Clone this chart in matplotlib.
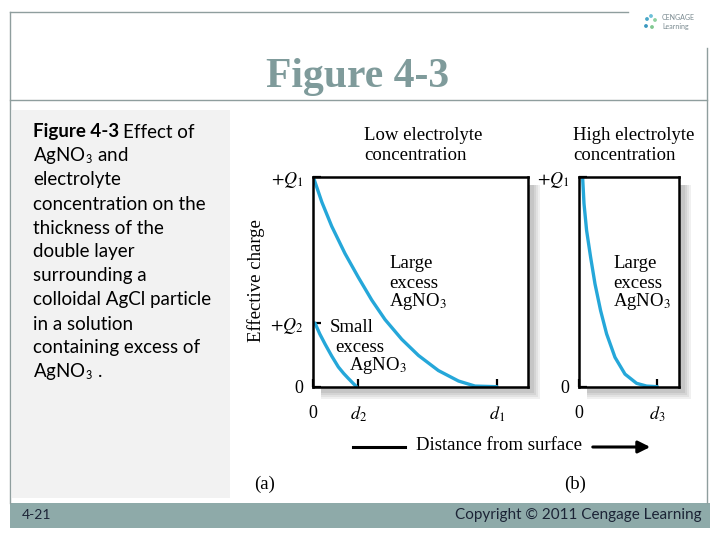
import matplotlib.pyplot as plt
from matplotlib.patches import Rectangle

plt.rcParams['mathtext.fontset'] = 'stix'

# curve readings: x as fraction of panel width, y as fraction of +Q1
large_a_x = [0.0, 0.04, 0.086, 0.148, 0.210, 0.273, 0.335, 0.413, 0.491, 0.584, 0.678, 0.755, 0.857]
large_a_y = [1.0, 0.88, 0.765, 0.635, 0.522, 0.413, 0.320, 0.226, 0.149, 0.077, 0.027, 0.003, 0.0]
small_a_x = [0.008, 0.03, 0.055, 0.086, 0.117, 0.142, 0.164, 0.185, 0.202]
small_a_y = [0.303, 0.252, 0.203, 0.146, 0.094, 0.063, 0.039, 0.017, 0.0]
large_b_x = [0.033, 0.047, 0.073, 0.113, 0.157, 0.213, 0.273, 0.357, 0.457, 0.573, 0.673, 0.78]
large_b_y = [1.0, 0.873, 0.745, 0.618, 0.490, 0.363, 0.252, 0.140, 0.060, 0.016, 0.003, 0.0]

xticks_a = [0, 0.21, 0.857]
xlabels_a = ['0', '$d_2$', '$d_1$']
yticks_a = [0, 0.303, 1]
ylabels_a = ['0', '$+Q_2$', '$+Q_1$']
xticks_b = [0, 0.78]
xlabels_b = ['0', '$d_3$']
yticks_b = [0, 1]
ylabels_b = ['0', '$+Q_1$']

caption_lines = ['', 'AgNO$_\\mathsf{3}$ and', 'electrolyte', 'concentration on the',
                 'thickness of the', 'double layer', 'surrounding a',
                 'colloidal AgCl particle', 'in a solution', 'containing excess of',
                 'AgNO$_\\mathsf{3}$ .']

BLUE = '#25a7d9'
SERIF = 'Liberation Serif'
SANS = 'Lato'
FS = 13.5
W, H = 720, 540

fig = plt.figure(figsize=(7.2, 5.4), dpi=100)
fig.patch.set_facecolor('white')

# full-figure axes in pixel coordinates for slide decorations
bg = fig.add_axes([0, 0, 1, 1], zorder=-1)
bg.set_xlim(0, W)
bg.set_ylim(H, 0)
bg.axis('off')

frame = '#8f9e9e'
bg.plot([10, 628], [12, 12], color=frame, lw=1)
bg.plot([10, 10], [12, 503], color=frame, lw=1)
bg.plot([707, 707], [48, 503], color=frame, lw=1)
bg.plot([10, 707], [100, 100], color=frame, lw=1)

bg.text(358, 77, 'Figure 4-3', ha='center', va='center', fontsize=30,
        family=SERIF, weight='bold', color='#7f9b9b')

# logo
bg.text(662, 18, 'CENGAGE', fontsize=5, family=SANS, color='#7a8a90', va='center')
bg.text(662, 27, 'Learning', fontsize=5, family=SANS, color='#7a8a90', va='center')
bg.scatter([647, 651, 655, 646, 652], [19, 16, 20, 26, 27], s=3,
           color=['#4aa8c8', '#6cc0d8', '#8fd0a0', '#3a98c0', '#80c890'])

# caption box
bg.add_patch(Rectangle((12, 110), 218, 388, color='#f2f2f2', lw=0))
t = bg.text(33, 132, 'Figure 4-3', fontsize=13.5, family=SANS, weight='bold', va='center')
renderer = fig.canvas.get_renderer()
bb = t.get_window_extent(renderer)
bg.text(bb.x1 + 4, 540 - 132, 'Effect of', fontsize=13.5, family=SANS, va='center',
        transform=None)
for i, line in enumerate(caption_lines):
    if line:
        bg.text(33, 132 + 24 * i, line, fontsize=13.5, family=SANS, va='center')

# footer
bg.add_patch(Rectangle((10, 503), 700, 25, color='#8eaaa9', lw=0))
bg.text(22, 515, '4-21', fontsize=10, family=SANS, color='#1c2436', va='center')
bg.text(702, 515, 'Copyright © 2011 Cengage Learning', fontsize=11, family=SANS,
        color='#1c2436', va='center', ha='right')


def px_axes(left, top, right, bottom):
    return fig.add_axes([left / W, 1 - bottom / H, (right - left) / W, (bottom - top) / H])


def shadow(left, top, right, bottom):
    shades = ['#f0f0f0', '#e2e2e2', '#d4d4d4', '#c6c6c6']
    for k, c in enumerate(shades):
        off = 12 - 2 * k
        bg.add_patch(Rectangle((left + 8, top + 8), right - left - 8 + off,
                               bottom - top - 8 + off, color=c, lw=0))


panels = {'a': (313.3, 177, 527.5, 386.7), 'b': (579.3, 177, 679.3, 386.7)}
for box in panels.values():
    shadow(*box)

ax_a = px_axes(*panels['a'])
ax_b = px_axes(*panels['b'])

ax_a.plot(large_a_x, large_a_y, color=BLUE, lw=2.4, solid_capstyle='round')
ax_a.plot(small_a_x, small_a_y, color=BLUE, lw=2.4, solid_capstyle='round')
ax_b.plot(large_b_x, large_b_y, color=BLUE, lw=2.4, solid_capstyle='round')

for ax, xt, xl, yt, yl in [(ax_a, xticks_a, xlabels_a, yticks_a, ylabels_a),
                           (ax_b, xticks_b, xlabels_b, yticks_b, ylabels_b)]:
    ax.set_xlim(0, 1)
    ax.set_ylim(0, 1)
    ax.set_xticks(xt)
    ax.set_xticklabels(xl, fontsize=13, fontfamily=SERIF)
    ax.set_yticks(yt)
    ax.set_yticklabels(yl, fontsize=13, fontfamily=SERIF)
    ax.tick_params(axis='both', direction='in', length=6, width=1.6)
    ax.tick_params(axis='x', pad=13)
    ax.tick_params(axis='y', pad=7)
    for s in ax.spines.values():
        s.set_linewidth(1.8)
    ax.set_facecolor('white')


def label(ax, x, y, s, **kw):
    # place text in slide pixel coordinates but let it belong to the panel axes
    ax.text(x, y, s, fontsize=FS, family=SERIF, va='center', transform=bg.transData,
            clip_on=False, **kw)


# panel headings and annotations
label(ax_a, 364, 136, 'Low electrolyte')
label(ax_a, 364, 155, 'concentration')
label(ax_b, 573, 136, 'High electrolyte')
label(ax_b, 573, 155, 'concentration')

for ax, x0 in ((ax_a, 389), (ax_b, 613)):
    label(ax, x0, 263, 'Large')
    label(ax, x0, 283, 'excess')
    label(ax, x0, 302, 'AgNO$_3$')
label(ax_a, 330, 327, 'Small')
label(ax_a, 335, 347, 'excess')
label(ax_a, 349, 366, 'AgNO$_3$')

bg.text(256, 281, 'Effective charge', fontsize=FS, family=SERIF, rotation=90,
        ha='center', va='center')

bg.plot([353, 405], [447, 447], color='black', lw=2.2)
bg.annotate('', xy=(653, 447), xytext=(590, 447),
            arrowprops=dict(arrowstyle='-|>', color='black', lw=2.2, mutation_scale=18))
bg.text(499, 446, 'Distance from surface', fontsize=FS, family=SERIF,
        ha='center', va='center')

bg.text(265, 484, '(a)', fontsize=FS, family=SERIF, ha='center', va='center')
bg.text(575, 484, '(b)', fontsize=FS, family=SERIF, ha='center', va='center')

fig.savefig('out.png', dpi=100)
